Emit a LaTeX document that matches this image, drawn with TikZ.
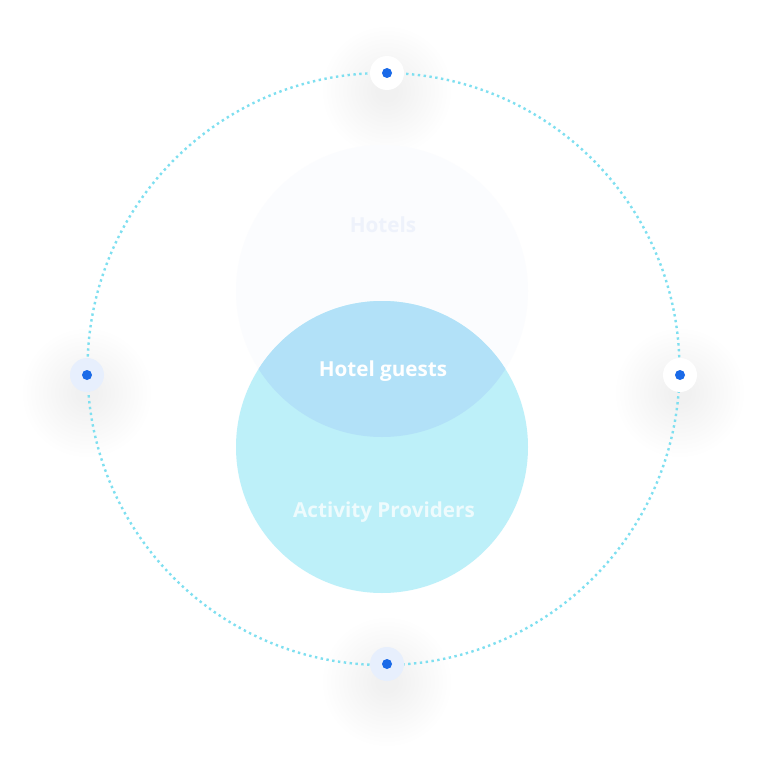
\documentclass[tikz,border=0pt]{standalone}
\usepackage{fontspec}
\setmainfont{Open Sans}
\definecolor{ringcol}{HTML}{7EDFF0}
\definecolor{dotcol}{HTML}{1A6AE8}
\definecolor{hotelcol}{HTML}{FBFCFE}
\definecolor{hoteltext}{HTML}{EEF2FB}
\definecolor{providercol}{HTML}{BDF0F9}
\definecolor{providertext}{HTML}{EEFBFD}
\definecolor{guestcol}{HTML}{B2E1F8}
\definecolor{halocol}{HTML}{E7EFFD}

\begin{document}
\begin{tikzpicture}[x=0.75pt,y=-0.75pt,
		set node/.style={circle,minimum size=219pt,inner sep=0pt},
		shadow layer/.style={fill=black,fill opacity=#1},
		halo node/.style={circle,minimum size=25.5pt,inner sep=0pt,fill=#1},
		dot node/.style={circle,minimum size=7.5pt,inner sep=0pt,fill=dotcol},
		label text/.style={font=\bfseries\fontsize{15.5pt}{18pt}\selectfont,text=#1}]
		% background and bounding box
		\fill[white] (0,0) rectangle (768,767);
		
		% soft shadows, built from thin layers
		\foreach \cy in {300,456}
		\foreach \r in {140,147,...,238}
		\fill[shadow layer=0.0013] (382,\cy) circle (\r);
		\foreach \px/\py in {387/73, 87/375, 680/375, 387/664}
		\foreach \r in {12,16,...,64}
		\fill[shadow layer=0.002] (\px,\py+18) circle (\r);
		
		% the two sets
		\node[set node,fill=hotelcol] (hotels) at (382,291) {};
		\node[set node,fill=providercol] (providers) at (382,447) {};
		\begin{scope}
			\clip (382,291) circle (146);
			\fill[guestcol] (382,447) circle (146);
		\end{scope}
		
		% ring
		\node[circle,draw=ringcol,line width=1.8pt,dash pattern=on 1.8pt off 2.6pt,minimum size=444pt,inner sep=0pt] (ring) at (383.5,369) {};
		
		% points on the ring
		\node[halo node=white] (ptop) at (387,73) {};
		\node[halo node=halocol] (pleft) at (87,375) {};
		\node[halo node=white] (pright) at (680,375) {};
		\node[halo node=halocol] (pbottom) at (387,664) {};
		\foreach \n in {ptop,pleft,pright,pbottom}
		\node[dot node] at (\n.center) {};
		
		% labels
		\node[label text=hoteltext] (hotelslabel) at (383,225) {Hotels};
		\node[label text=white] (guestslabel) at (383,371) {Hotel guests};
		\node[label text=providertext] (providerslabel) at (384,512) {Activity Providers};
\end{tikzpicture}
\end{document}
